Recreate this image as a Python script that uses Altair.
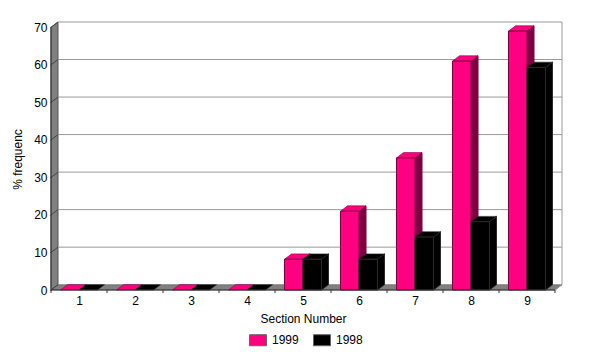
import altair as alt
import pandas as pd

categories = [1, 2, 3, 4, 5, 6, 7, 8, 9]
values_1999 = [0, 0, 0, 0, 8.2, 21, 35.2, 61, 69]
values_1998 = [0, 0, 0, 0, 8.2, 8.2, 14.1, 18.2, 59.3]
y_ticks = [0, 10, 20, 30, 40, 50, 60, 70]
series_names = ["1999", "1998"]
PINK, PINK_DARK, BLACK, BLACK_EDGE = "#FF0080", "#7F0040", "#000000", "#2A2A2A"

DX, DY = 0.125, 1.42      # depth of the fake 3D, in data units
BAR_W = 0.33
X0, X1 = 0.5, 9.5
Y_TOP = 70

x_s = alt.Scale(domain=[X0, X1 + DX], nice=False, zero=False)
y_s = alt.Scale(domain=[0, Y_TOP + DY], nice=False, zero=False)
X = lambda f="x", **k: alt.X(f"{f}:Q", scale=x_s, axis=None, **k)
Y = lambda f="y", **k: alt.Y(f"{f}:Q", scale=y_s, axis=None, **k)

shared_legend = alt.Legend(title=None, orient="none", legendX=198, legendY=309,
                           direction="horizontal", columns=2, columnPadding=12,
                           symbolType="M-1,-0.65H1V0.65H-1Z", symbolSize=289,
                           symbolStrokeColor="#666666", symbolStrokeWidth=1,
                           labelFont="Liberation Sans", labelFontSize=12,
                           labelColor="#000000", labelOffset=5)


def bars(values, offset):
    front, side, top = [], [], []
    for c, v in zip(categories, values):
        a = c + offset
        b = a + BAR_W
        k = f"{c}"
        front.append(dict(x=a, x2=b, y=0, y2=v, v=v))
        side += [dict(k=k, x=b, y=v, y2=0), dict(k=k, x=b + DX, y=v + DY, y2=DY)]
        top += [dict(k=k, x=a, y=v, y2=v), dict(k=k, x=a + DX, y=v + DY, y2=v),
                dict(k=k, x=b, y=v + DY, y2=v), dict(k=k, x=b + DX, y=v + DY, y2=v + DY)]
    return pd.DataFrame(front), pd.DataFrame(side), pd.DataFrame(top)


def series_layers(values, offset, name, fill, side_fill, edge):
    front, side, top = bars(values, offset)
    front["series"] = name
    side = side[side["k"].isin([str(c) for c, v in zip(categories, values) if v > 0])]
    sl = alt.Chart(side).mark_area(fill=side_fill, stroke=edge, strokeWidth=1).encode(
        x=X(), y=Y(), y2="y2:Q", detail="k:N")
    tl = alt.Chart(top).mark_area(fill=fill, stroke=edge, strokeWidth=0.6).encode(
        x=X(), y=Y(), y2="y2:Q", detail="k:N")
    fl = alt.Chart(front[front["v"] > 0]).mark_bar(stroke=edge, strokeWidth=1).encode(
        x=X(), x2="x2:Q", y=Y(), y2="y2:Q",
        fill=alt.Fill("series:N", scale=alt.Scale(domain=series_names, range=[PINK, BLACK]),
                      legend=shared_legend))
    return [sl, tl, fl]


# axes carrier
axis_df = pd.DataFrame({"x": categories, "y": [0] * len(categories)})
axes = alt.Chart(axis_df).mark_point(opacity=0).encode(
    x=alt.X("x:Q", scale=x_s, title="Section Number",
            axis=alt.Axis(values=categories, format="d", domain=False, ticks=False, grid=False,
                          labelFont="Liberation Sans", labelFontSize=12, labelColor="#000",
                          labelPadding=5, labelAngle=0, titleFont="Liberation Sans", titleFontSize=12,
                          titleFontWeight="normal", titleColor="#000", titleY=23, titleX=252)),
    y=alt.Y("y:Q", scale=y_s, title="% frequenc",
            axis=alt.Axis(values=y_ticks, domain=False, tickSize=1, tickColor="#000", grid=False,
                          labelFont="Liberation Sans", labelFontSize=12, labelColor="#000",
                          labelPadding=3, titleFont="Liberation Sans", titleFontSize=12,
                          titleFontWeight="normal", titleColor="#000", titleX=-27, titleY=137)))

# left wall and floor
wall_df = pd.DataFrame([dict(x=X0, y=Y_TOP, y2=0), dict(x=X0 + DX, y=Y_TOP + DY, y2=DY)])
wall = alt.Chart(wall_df).mark_area(fill="#808080", stroke="#555555", strokeWidth=1).encode(
    x=X(), y=Y(), y2="y2:Q")
floor_df = pd.DataFrame([dict(x=X0, y=0, y2=0), dict(x=X0 + DX, y=DY, y2=0),
                         dict(x=X1, y=DY, y2=0), dict(x=X1 + DX, y=DY, y2=DY)])
floor = alt.Chart(floor_df).mark_area(fill="#808080", stroke="#555555", strokeWidth=0.6).encode(
    x=X(), y=Y(), y2="y2:Q")

# back-wall gridlines
grid_df = pd.DataFrame({"y": [t + DY for t in y_ticks[1:]], "x": X0 + DX, "x2": X1 + DX})
grid = alt.Chart(grid_df).mark_rule(color="#999999", strokeWidth=1).encode(
    x=X(), x2="x2:Q", y=Y())
right_df = pd.DataFrame({"x": [X1 + DX], "y": [DY], "y2": [Y_TOP + DY]})
right = alt.Chart(right_df).mark_rule(color="#999999", strokeWidth=1).encode(
    x=X(), y=Y(), y2="y2:Q")

# wall tick diagonals
diag_rows = []
for t in y_ticks:
    diag_rows += [dict(t=t, x=X0, y=t), dict(t=t, x=X0 + DX, y=t + DY)]
diag = alt.Chart(pd.DataFrame(diag_rows)).mark_line(color="#444444", strokeWidth=1).encode(
    x=X(), y=Y(), detail="t:N")
right_diag = alt.Chart(pd.DataFrame([dict(x=X1, y=0), dict(x=X1 + DX, y=DY)])).mark_line(
    color="#999999", strokeWidth=1).encode(x=X(), y=Y())

# front axis lines and category ticks
x_line = alt.Chart(pd.DataFrame({"x": [X0], "x2": [X1], "y": [0]})).mark_rule(color="#333333").encode(
    x=X(), x2="x2:Q", y=Y())
y_line = alt.Chart(pd.DataFrame({"x": [X0], "y": [0], "y2": [Y_TOP]})).mark_rule(color="#333333").encode(
    x=X(), y=Y(), y2="y2:Q")
tick_df = pd.DataFrame({"x": [X0 + i for i in range(len(categories) + 1)], "y": 0, "y2": -0.8})
x_ticks = alt.Chart(tick_df).mark_rule(color="#333333").encode(x=X(), y=Y(), y2="y2:Q")

layers = [axes, wall, floor, grid, right, right_diag, diag]
layers += series_layers(values_1999, -BAR_W, "1999", PINK, PINK_DARK, PINK_DARK)
layers += series_layers(values_1998, 0, "1998", BLACK, BLACK, BLACK_EDGE)
layers += [x_line, y_line, x_ticks]

chart = alt.layer(*layers).resolve_axis(x="independent", y="independent").properties(
    width=511, height=268, background="white",
    autosize=alt.AutoSizeParams(type="none"),
    padding={"left": 43, "top": 14, "right": 30, "bottom": 60},
).configure_view(stroke=None)

chart.save("out.html", embed_options={"renderer": "svg", "actions": False})
